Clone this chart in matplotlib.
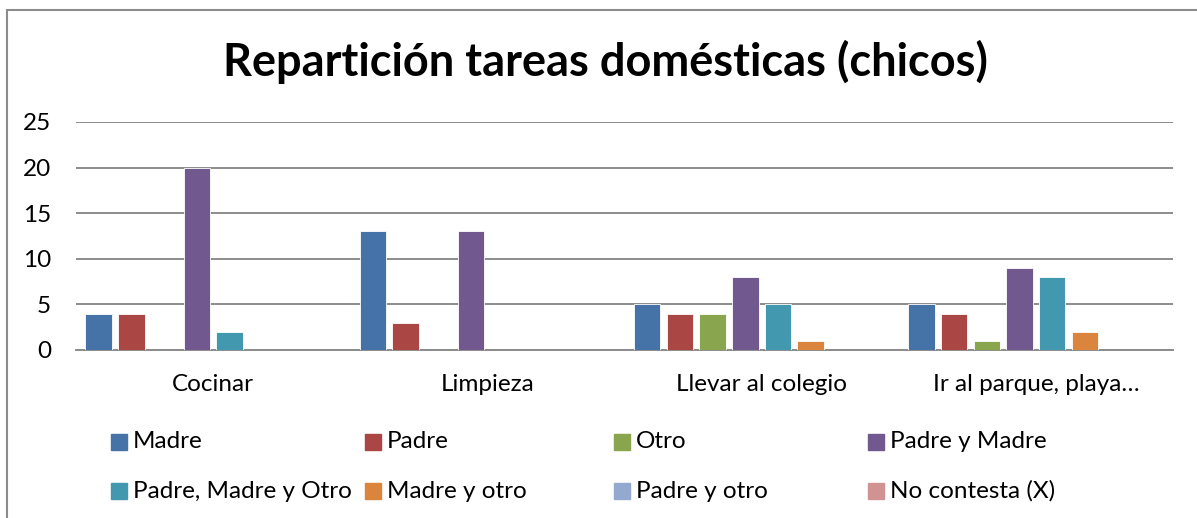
import numpy as np
import matplotlib.pyplot as plt
from matplotlib.patches import Rectangle

plt.rcParams['font.family'] = ['Lato', 'DejaVu Sans']

categorias = ['Cocinar', 'Limpieza', 'Llevar al colegio', 'Ir al parque, playa…']
series = ['Madre', 'Padre', 'Otro', 'Padre y Madre',
          'Padre, Madre y Otro', 'Madre y otro', 'Padre y otro', 'No contesta (X)']
madre = [4, 13, 5, 5]
padre = [4, 3, 4, 4]
otro = [0, 0, 4, 1]
padre_madre = [20, 13, 8, 9]
padre_madre_otro = [2, 0, 5, 8]
madre_otro = [0, 0, 1, 2]
padre_otro = [0, 0, 0, 0]
no_contesta = [0, 0, 0, 0]
valores = [madre, padre, otro, padre_madre, padre_madre_otro, madre_otro, padre_otro, no_contesta]
colores = ['#4572A7', '#AA4643', '#89A54E', '#71588F',
           '#4198AF', '#DB843D', '#93A9CF', '#D19392']

W, H = 1197, 518
fig = plt.figure(figsize=(W / 100, H / 100), dpi=100)
ax = fig.add_axes([76 / W, 1 - 350 / H, (1173 - 76) / W, (350 - 122) / H])

x = np.arange(len(categorias))
paso = 0.1192
ancho = 0.0966
for k in range(len(series)):
    ax.bar(x + (k - 3.5) * paso, valores[k], width=ancho, color=colores[k],
           edgecolor='white', linewidth=0.6, zorder=3)

ax.set_xlim(-0.5, 3.5)
ax.set_ylim(0, 25)
ax.set_yticks([0, 5, 10, 15, 20, 25])
ax.set_xticks(x)
ax.set_xticklabels(categorias)
ax.yaxis.grid(True, color='#8c8c8c', linewidth=1.4)
for s in ['top', 'right', 'left']:
    ax.spines[s].set_visible(False)
ax.spines['bottom'].set_color('#8c8c8c')
ax.spines['bottom'].set_linewidth(1.4)
ax.tick_params(axis='both', length=0, labelsize=17.5, colors='black')
ax.tick_params(axis='x', pad=17)
ax.tick_params(axis='y', pad=18)

# titulo
fig.text(605 / W, 1 - 62 / H, 'Repartición tareas domésticas (chicos)',
         ha='center', va='center', fontsize=32.5, fontweight='bold')

# leyenda
col_x = [111, 365, 614, 868]
fila_y = [442, 491]
for k, nombre in enumerate(series):
    cx = col_x[k % 4]
    cy = fila_y[k // 4]
    fig.patches.append(Rectangle((cx / W, 1 - (cy + 8) / H), 16 / W, 16 / H,
                                 transform=fig.transFigure, color=colores[k]))
    fig.text((cx + 22) / W, 1 - cy / H, nombre, ha='left', va='center', fontsize=17.5)

# borde del grafico
fig.patches.append(Rectangle((7 / W, -0.2), 1.2, 1.2 - 10 / H, transform=fig.transFigure,
                             fill=False, edgecolor='#8c8c8c', linewidth=1.5))

fig.savefig('out.png', dpi=100)
